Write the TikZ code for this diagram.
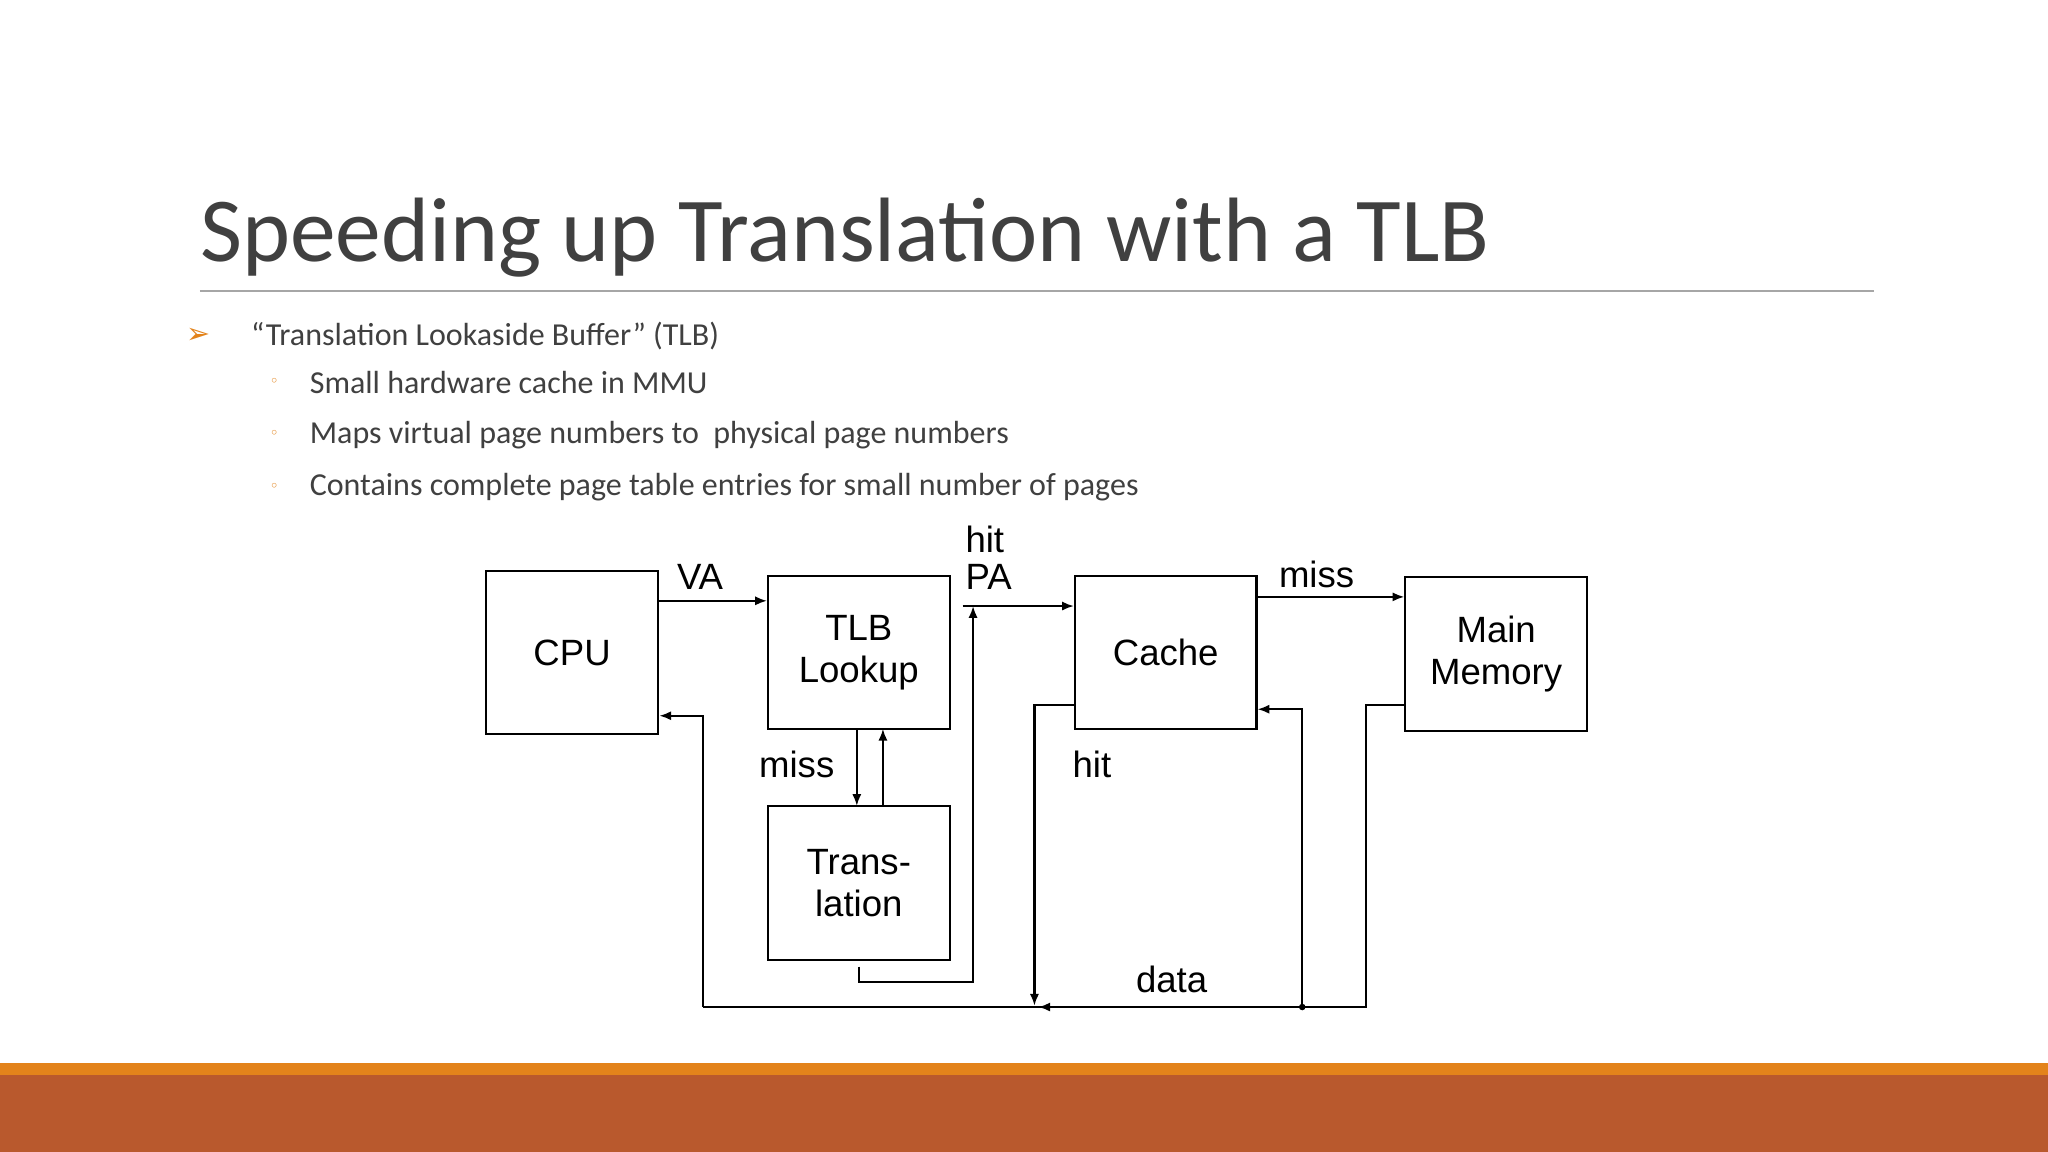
\documentclass[tikz,border=0pt]{standalone}
\usepackage{fontspec}
\setmainfont{Carlito}
\newfontfamily\arialf{Liberation Sans}
\newfontfamily\djv{DejaVu Sans}
\usetikzlibrary{arrows.meta}
\definecolor{orangeA}{HTML}{E3831B}
\definecolor{rust}{HTML}{B9592D}
\definecolor{titlegray}{HTML}{404040}
\definecolor{textgray}{HTML}{404040}
\tikzset{
  blk/.style={draw, line width=1.6pt, inner sep=0},
  lbl/.style={font=\arialf\fontsize{28}{32}\selectfont, align=center},
  conn/.style={line width=1.6pt, -{Latex[length=9pt,width=7pt]}},
  wire/.style={line width=1.6pt},
  body/.style={font=\fontsize{24.5}{28}\selectfont, text=textgray, anchor=west, inner sep=0},
}
\begin{document}
\begin{tikzpicture}[x=1pt,y=-1pt]
\useasboundingbox (0,0) rectangle (1568,882);
\fill[white] (0,0) rectangle (1568,814);
\fill[orangeA] (0,814) rectangle (1568,823);
\fill[rust] (0,823) rectangle (1568,882);
% title
\node[anchor=base west, inner sep=0, text=titlegray, font=\fontsize{70}{80}\selectfont] (title) at (153,200) {Speeding up Translation with a TLB};
\draw[gray!70, line width=1.2pt] (153,223) -- (1435,223);
% bullets
\node[text=orangeA, font=\djv\fontsize{22}{24}\selectfont, inner sep=0] (b0) at (152,257) {➢};
\node[body] (t0) at (192,257) {“Translation Lookaside Buffer” (TLB)};
\foreach \y/\t/\n in {293/Small hardware cache in MMU/1, 333/{Maps virtual page numbers to \ physical page numbers}/2, 373/Contains complete page table entries for small number of pages/3}{
  \node[text=orangeA, font=\djv\fontsize{12}{14}\selectfont, inner sep=0] (s\n) at (210,\y) {◦};
  \node[body] (u\n) at (237,\y) {\t};
}
% boxes
\node[blk, minimum width=132, minimum height=125, lbl] (cpu) at (438,499.5) {CPU};
\node[blk, minimum width=139, minimum height=117, lbl] (tlb) at (657.5,499.5) {TLB\\Lookup};
\node[blk, minimum width=139, minimum height=118, lbl] (tr) at (657.5,676) {Trans-\\lation};
\node[blk, minimum width=139, minimum height=117, lbl] (cache) at (892.5,499.5) {Cache};
\node[blk, minimum width=139, minimum height=118, lbl] (mem) at (1145.5,501) {Main\\Memory};
% labels
\node[lbl] (lva) at (536,442) {VA};
\node[lbl] (lhit1) at (754,413) {hit};
\node[lbl] (lpa) at (757,442) {PA};
\node[lbl] (lmiss1) at (610,585) {miss};
\node[lbl] (lmiss2) at (1008,440) {miss};
\node[lbl] (lhit2) at (836,585) {hit};
\node[lbl] (ldata) at (897,750) {data};
% connectors
\draw[conn] (cpu.east |- 0,460) -- (tlb.west |- 0,460);
\coordinate (pa0) at (737,464);
\draw[conn] (pa0) -- (cache.west |- pa0);
\draw[conn] (656,558) -- (656,617);
\draw[conn] (676,617) -- (676,558);
\coordinate (trb) at (658,740);
\coordinate (trc) at (745,752);
\draw[conn] (trb) |- (trc) -- (745,464);
\draw[conn] (cache.east |- 0,457) -- (mem.west |- 0,457);
\coordinate (hc) at (792,540);
\draw[conn] (cache.west |- hc) -| (792,770);
\coordinate (mm1) at (1046,540);
\coordinate (bus) at (1046,771);
\coordinate (busL) at (538,771);
\coordinate (dot) at (997,771);
\draw[wire] (mem.west |- mm1) -- (mm1) -- (bus) -- (busL);
\draw[conn] (dot) -- (795,771);
\draw[conn] (busL) -- (538,548) -- (cpu.east |- 0,548);
\draw[conn] (dot) -- (997,543) -- (cache.east |- 0,543);
\fill (dot) circle (2.5);
\end{tikzpicture}
\end{document}
